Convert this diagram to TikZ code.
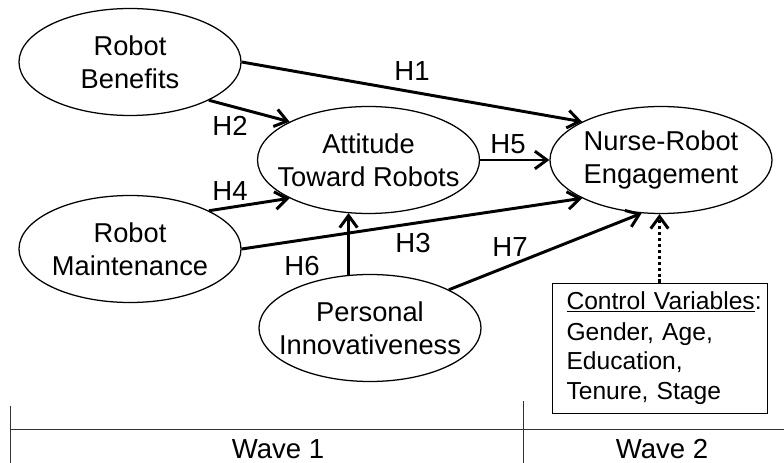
\documentclass[tikz,border=0pt]{standalone}
\usepackage{fontspec}
\setmainfont{Liberation Sans}
\usetikzlibrary{shapes.geometric,arrows.meta}

\tikzset{
  construct/.style={draw, ellipse, line width=0.9pt, inner xsep=-13pt, inner ysep=0pt,
    minimum width=55.5mm, minimum height=26.75mm, align=center,
    font=\fontsize{19.4}{23.5}\selectfont},
  hyp/.style={-{Straight Barb[length=3mm,width=4.4mm]}, line width=2.1pt},
  ctrl/.style={-{Straight Barb[length=3mm,width=4.4mm]}, line width=2.1pt,
    dash pattern=on 2.2pt off 2pt},
  lbl/.style={inner sep=0pt, font=\fontsize{19.6}{23}\selectfont},
}

\begin{document}
\begin{tikzpicture}[x=0.25mm, y=-0.25mm]
      \useasboundingbox (0,0) rectangle (784,463);
      % constructs
      \node[construct] (rb) at (130,62) {Robot\\Benefits};
      \node[construct] (rm) at (130,249) {Robot\\Maintenance};
      \node[construct] (at) at (368.5,160) {Attitude\\Toward Robots};
      \node[construct] (pi) at (370,328) {Personal\\Innovativeness};
      \node[construct] (nr) at (661,160) {Nurse-Robot\\Engagement};
      \node[draw, line width=0.7pt, minimum width=53.75mm, minimum height=32.5mm,
        text width=46.5mm, align=left, inner sep=0pt,
        font=\fontsize{17.5}{21}\selectfont] (cv) at (659.5,348)
        {\underline{Control Variables}:\\[1pt]Gender, Age,\\Education,\\Tenure, Stage};
      % hypotheses
      \draw[hyp] (rb.east) -- (nr.north west);
      \draw[hyp] (rb.south east) -- (at.north west);
      \draw[hyp] (rm.north east) -- (at.south west);
      \draw[hyp] (rm.east) -- (nr.south west);
      \draw[hyp] (at.east) -- (nr.west);
      \draw[hyp] (pi.112) -- (pi.112 |- at.248);
      \draw[hyp] (pi.north east) -- (nr.250);
      \draw[ctrl] (cv.north) -- (cv.north |- nr.south);
      \node[lbl] (h1) at (412,71) {H1};
      \node[lbl] (h2) at (230,126) {H2};
      \node[lbl] (h3) at (413,243) {H3};
      \node[lbl] (h4) at (230,191) {H4};
      \node[lbl] (h5) at (508,144) {H5};
      \node[lbl] (h6) at (302,266) {H6};
      \node[lbl] (h7) at (510,247) {H7};
      % survey waves
      \draw[line width=0.7pt, black!80] (10,429) -- (784,429);
      \draw[line width=0.7pt, black!80] (10,406) -- (10,463);
      \draw[line width=0.7pt, black!80] (523,401) -- (523,463);
      \node[lbl] (w1) at (278,449) {Wave 1};
      \node[lbl] (w2) at (662,449) {Wave 2};
\end{tikzpicture}
\end{document}
